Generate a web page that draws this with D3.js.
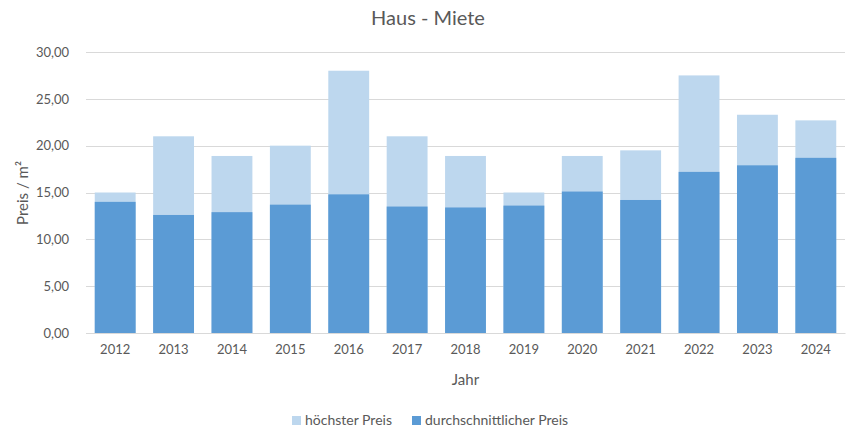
<!DOCTYPE html>
<html><head><meta charset="utf-8">
<script src="https://cdn.jsdelivr.net/npm/d3@7"></script>
<style>body{margin:0;background:#fff;font-family:Lato,"Open Sans",sans-serif;}</style>
</head><body><svg id="c" width="857" height="440"></svg>
<script>
const years = ["2012","2013","2014","2015","2016","2017","2018","2019","2020","2021","2022","2023","2024"];
const hoechster = [15.0,21.0,18.9,20.0,28.0,21.0,18.9,15.0,18.9,19.5,27.5,23.3,22.7];
const durchschnitt = [14.0,12.6,12.9,13.7,14.8,13.5,13.4,13.6,15.1,14.2,17.2,17.9,18.7];
const yTicks = [0,5,10,15,20,25,30];

const svg = d3.select("#c");
const m = {left:86, right:845, top:52, bottom:333};
const x = d3.scaleBand().domain(years).range([m.left,m.right]).paddingInner(0.3).paddingOuter(0.15);
const y = d3.scaleLinear().domain([0,30]).range([m.bottom,m.top]);
const txt = "#595959";
const fmt = v => d3.format(".2f")(v).replace(".",",");

svg.append("g").selectAll("line").data(yTicks).join("line")
  .attr("x1",m.left).attr("x2",m.right)
  .attr("y1",d=>Math.round(y(d))+0.5).attr("y2",d=>Math.round(y(d))+0.5)
  .attr("stroke","#d9d9d9").attr("stroke-width",1);

const ya = svg.append("g").attr("transform",`translate(${m.left-14},0)`)
  .call(d3.axisLeft(y).tickValues(yTicks).tickFormat(fmt).tickSize(0));
ya.select(".domain").remove();
ya.selectAll("text").attr("fill",txt).style("font-size","13px").style("font-family","Lato, sans-serif");

svg.append("g").selectAll("rect").data(years).join("rect")
  .attr("x",d=>x(d)).attr("width",x.bandwidth())
  .attr("y",(d,i)=>y(hoechster[i])).attr("height",(d,i)=>y(0)-y(hoechster[i]))
  .attr("fill","#bdd7ee");
svg.append("g").selectAll("rect").data(years).join("rect")
  .attr("x",d=>x(d)).attr("width",x.bandwidth())
  .attr("y",(d,i)=>y(durchschnitt[i])).attr("height",(d,i)=>y(0)-y(durchschnitt[i]))
  .attr("fill","#5b9bd5");

const xa = svg.append("g").attr("transform",`translate(0,${m.bottom})`)
  .call(d3.axisBottom(x).tickSize(0).tickPadding(12));
xa.select(".domain").attr("stroke","#d9d9d9");
xa.selectAll("text").attr("fill",txt).style("font-size","13px").style("font-family","Lato, sans-serif");

svg.append("text").attr("x",428).attr("y",25).attr("text-anchor","middle")
  .attr("fill",txt).style("font-size","20px").text("Haus - Miete");
svg.append("text").attr("x",(m.left+m.right)/2).attr("y",385).attr("text-anchor","middle")
  .attr("fill",txt).style("font-size","15px").text("Jahr");
svg.append("text").attr("transform","translate(28,193) rotate(-90)").attr("text-anchor","middle")
  .attr("fill",txt).style("font-size","15px").text("Preis / m²");

const leg = [{n:"höchster Preis",c:"#bdd7ee",x:292},{n:"durchschnittlicher Preis",c:"#5b9bd5",x:412}];
const lg = svg.append("g").selectAll("g").data(leg).join("g")
  .attr("transform",d=>`translate(${d.x},425)`);
lg.append("rect").attr("x",0).attr("y",-9).attr("width",9).attr("height",9).attr("fill",d=>d.c);
lg.append("text").attr("x",13).attr("y",0).attr("fill",txt).style("font-size","14px").text(d=>d.n);
</script></body></html>
